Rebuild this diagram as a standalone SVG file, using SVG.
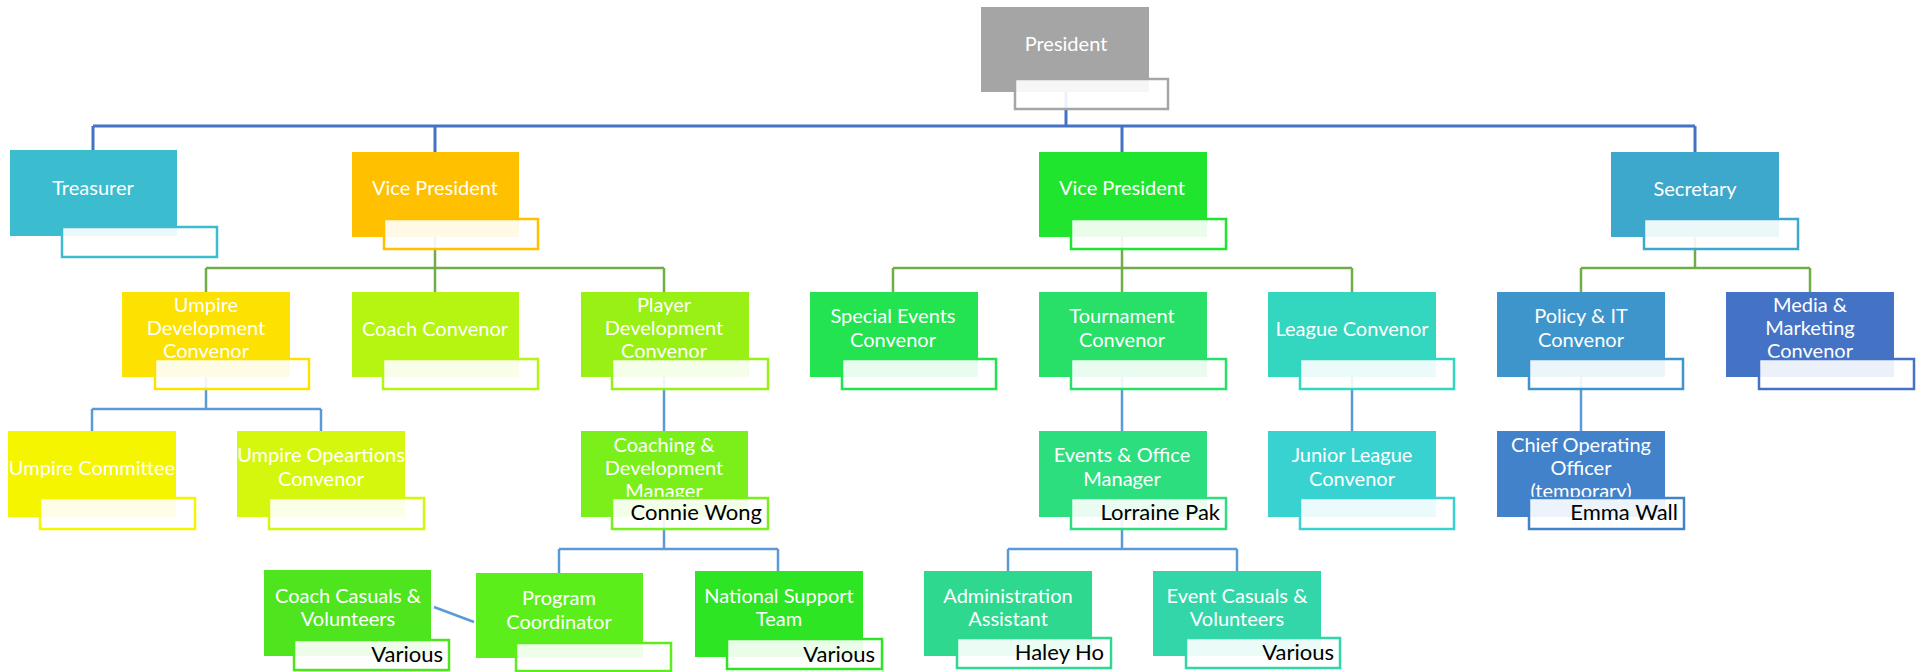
<svg xmlns="http://www.w3.org/2000/svg" width="1919" height="672" viewBox="0 0 1919 672">
<style>
.sub{fill:#ffffff;fill-opacity:0.9;stroke-width:2.5}
.t{font-family:Lato,"Liberation Sans",sans-serif;font-size:20px;fill:#ffffff;text-anchor:middle}
.n{font-family:Lato,"Liberation Sans",sans-serif;font-size:22px;fill:#000000;text-anchor:end}
.c1{stroke:#4472C4;stroke-width:3;fill:none}
.c2{stroke:#70AD47;stroke-width:2.5;fill:none}
.c3{stroke:#5B9BD5;stroke-width:2.5;fill:none}
</style>
<rect width="1919" height="672" fill="#ffffff"/>
<g id="connectors">
<path class="c1" d="M1066 92V126M93 126H1695M93 126V150M435 126V152M1122 126V152M1695 126V152"/>
<path class="c2" d="M435 237V268M206 268H664M206 268V292M435 268V292M664 268V292"/>
<path class="c2" d="M1122 237V268M893 268H1352M893 268V292M1122 268V292M1352 268V292"/>
<path class="c2" d="M1695 237V268M1581 268H1810M1581 268V292M1810 268V292"/>
<path class="c3" d="M206 377V409M92 409H321M92 409V431M321 409V431"/>
<path class="c3" d="M664 377V431M1122 377V431M1352 377V431M1581 377V431"/>
<path class="c3" d="M664 517V549M559 549H778M559 549V573M778 549V571"/>
<path class="c3" d="M1122 517V549M1008 549H1237M1008 549V571M1237 549V571"/>
<path class="c3" d="M434 607L474 622"/>
</g>
<g id="president">
<rect x="981" y="7" width="168" height="85" fill="#A5A5A5"/>
<text class="t" x="1066" y="51">President</text>
<rect class="sub" x="1015" y="79" width="153" height="30" stroke="#A5A5A5"/>
</g>
<g id="treasurer">
<rect x="10" y="150" width="167" height="86" fill="#3BBCCF"/>
<text class="t" x="93" y="195">Treasurer</text>
<rect class="sub" x="62" y="227" width="155" height="30" stroke="#3BBCCF"/>
</g>
<g id="vp1">
<rect x="352" y="152" width="167" height="85" fill="#FFC000"/>
<text class="t" x="435" y="195">Vice President</text>
<rect class="sub" x="384" y="219" width="154" height="30" stroke="#FFC000"/>
</g>
<g id="vp2">
<rect x="1039" y="152" width="168" height="85" fill="#1FE52F"/>
<text class="t" x="1122" y="195">Vice President</text>
<rect class="sub" x="1071" y="219" width="155" height="30" stroke="#1FE52F"/>
</g>
<g id="secretary">
<rect x="1611" y="152" width="168" height="85" fill="#3EA8CC"/>
<text class="t" x="1695" y="196">Secretary</text>
<rect class="sub" x="1644" y="219" width="154" height="30" stroke="#3EA8CC"/>
</g>
<g id="umpire-dev">
<rect x="122" y="292" width="168" height="85" fill="#FDE100"/>
<text class="t" x="206" y="312">Umpire</text>
<text class="t" x="206" y="335">Development</text>
<text class="t" x="206" y="358">Convenor</text>
<rect class="sub" x="155" y="359" width="154" height="30" stroke="#FDE100"/>
</g>
<g id="coach-convenor">
<rect x="352" y="292" width="167" height="85" fill="#B5F511"/>
<text class="t" x="435" y="336">Coach Convenor</text>
<rect class="sub" x="383" y="359" width="155" height="30" stroke="#B5F511"/>
</g>
<g id="player-dev">
<rect x="581" y="292" width="168" height="85" fill="#98F014"/>
<text class="t" x="664" y="312">Player</text>
<text class="t" x="664" y="335">Development</text>
<text class="t" x="664" y="358">Convenor</text>
<rect class="sub" x="612" y="359" width="156" height="30" stroke="#98F014"/>
</g>
<g id="special-events">
<rect x="810" y="292" width="168" height="85" fill="#24E350"/>
<text class="t" x="893" y="323">Special Events</text>
<text class="t" x="893" y="347">Convenor</text>
<rect class="sub" x="842" y="359" width="154" height="30" stroke="#24E350"/>
</g>
<g id="tournament">
<rect x="1039" y="292" width="168" height="85" fill="#28E068"/>
<text class="t" x="1122" y="323">Tournament</text>
<text class="t" x="1122" y="347">Convenor</text>
<rect class="sub" x="1071" y="359" width="155" height="30" stroke="#28E068"/>
</g>
<g id="league">
<rect x="1268" y="292" width="168" height="85" fill="#33D6BE"/>
<text class="t" x="1352" y="336">League Convenor</text>
<rect class="sub" x="1300" y="359" width="154" height="30" stroke="#33D6BE"/>
</g>
<g id="policy-it">
<rect x="1497" y="292" width="168" height="85" fill="#3E95CC"/>
<text class="t" x="1581" y="323">Policy &amp; IT</text>
<text class="t" x="1581" y="347">Convenor</text>
<rect class="sub" x="1529" y="359" width="154" height="30" stroke="#3E95CC"/>
</g>
<g id="media">
<rect x="1726" y="292" width="168" height="85" fill="#4472C4"/>
<text class="t" x="1810" y="312">Media &amp;</text>
<text class="t" x="1810" y="335">Marketing</text>
<text class="t" x="1810" y="358">Convenor</text>
<rect class="sub" x="1759" y="359" width="155" height="30" stroke="#4472C4"/>
</g>
<g id="umpire-committee">
<rect x="8" y="431" width="168" height="86" fill="#F5F500"/>
<text class="t" x="92" y="475">Umpire Committee</text>
<rect class="sub" x="40" y="498" width="155" height="31" stroke="#F5F500"/>
</g>
<g id="umpire-ops">
<rect x="237" y="431" width="168" height="86" fill="#D5F70E"/>
<text class="t" x="321" y="462">Umpire Opeartions</text>
<text class="t" x="321" y="486">Convenor</text>
<rect class="sub" x="269" y="498" width="155" height="31" stroke="#D5F70E"/>
</g>
<g id="coaching-manager">
<rect x="581" y="431" width="167" height="86" fill="#7AEF1A"/>
<text class="t" x="664" y="452">Coaching &amp;</text>
<text class="t" x="664" y="475">Development</text>
<text class="t" x="664" y="498">Manager</text>
<rect class="sub" x="612" y="498" width="156" height="31" stroke="#7AEF1A"/>
<text class="n" x="762" y="520">Connie Wong</text>
</g>
<g id="events-office">
<rect x="1039" y="431" width="168" height="86" fill="#2CDE7E"/>
<text class="t" x="1122" y="462">Events &amp; Office</text>
<text class="t" x="1122" y="486">Manager</text>
<rect class="sub" x="1071" y="498" width="155" height="31" stroke="#2CDE7E"/>
<text class="n" x="1220" y="520">Lorraine Pak</text>
</g>
<g id="junior-league">
<rect x="1268" y="431" width="168" height="86" fill="#38D3D0"/>
<text class="t" x="1352" y="462">Junior League</text>
<text class="t" x="1352" y="486">Convenor</text>
<rect class="sub" x="1300" y="498" width="154" height="31" stroke="#38D3D0"/>
</g>
<g id="coo">
<rect x="1497" y="431" width="168" height="86" fill="#4182CA"/>
<text class="t" x="1581" y="452">Chief Operating</text>
<text class="t" x="1581" y="475">Officer</text>
<text class="t" x="1581" y="498">(temporary)</text>
<rect class="sub" x="1529" y="498" width="155" height="31" stroke="#4182CA"/>
<text class="n" x="1678" y="520">Emma Wall</text>
</g>
<g id="coach-casuals">
<rect x="264" y="570" width="167" height="86" fill="#4EE51F"/>
<text class="t" x="348" y="603">Coach Casuals &amp;</text>
<text class="t" x="348" y="626">Volunteers</text>
<rect class="sub" x="294" y="640" width="155" height="30" stroke="#4EE51F"/>
<text class="n" x="443" y="662">Various</text>
</g>
<g id="program-coordinator">
<rect x="476" y="573" width="167" height="85" fill="#5CEE1A"/>
<text class="t" x="559" y="605">Program</text>
<text class="t" x="559" y="629">Coordinator</text>
<rect class="sub" x="516" y="643" width="155" height="28" stroke="#5CEE1A"/>
</g>
<g id="national-support">
<rect x="695" y="571" width="168" height="86" fill="#2EE523"/>
<text class="t" x="779" y="603">National Support</text>
<text class="t" x="779" y="626">Team</text>
<rect class="sub" x="727" y="639" width="155" height="30" stroke="#2EE523"/>
<text class="n" x="875" y="662">Various</text>
</g>
<g id="admin-assistant">
<rect x="924" y="571" width="168" height="85" fill="#2ED98F"/>
<text class="t" x="1008" y="603">Administration</text>
<text class="t" x="1008" y="626">Assistant</text>
<rect class="sub" x="957" y="638" width="154" height="30" stroke="#2ED98F"/>
<text class="n" x="1104" y="660">Haley Ho</text>
</g>
<g id="event-casuals">
<rect x="1153" y="571" width="168" height="85" fill="#33D6A8"/>
<text class="t" x="1237" y="603">Event Casuals &amp;</text>
<text class="t" x="1237" y="626">Volunteers</text>
<rect class="sub" x="1186" y="638" width="154" height="30" stroke="#33D6A8"/>
<text class="n" x="1334" y="660">Various</text>
</g>
</svg>
